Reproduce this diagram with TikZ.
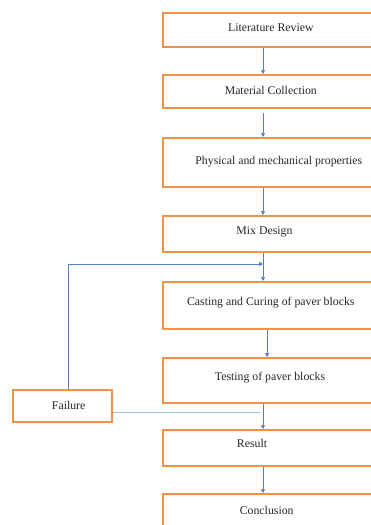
\documentclass[tikz,border=0pt]{standalone}
\usepackage{fontspec}
\setmainfont{Liberation Serif}
\usetikzlibrary{arrows.meta,calc}
\definecolor{boxorange}{RGB}{243,145,70}
\definecolor{arrblue}{RGB}{80,125,195}
\definecolor{lightblue}{RGB}{165,190,225}
\begin{document}
\begin{tikzpicture}[x=1pt,y=-1pt,
  box/.style={draw=boxorange,line width=2pt,rectangle,inner sep=0pt,minimum width=#1},
  box/.default=215pt,
  lbl/.style={font=\fontsize{11.8}{13}\selectfont,text=black!85,inner sep=0pt},
  arr/.style={draw=arrblue,line width=0.7pt,-{Triangle[length=4pt,width=4pt]}},
  lin/.style={draw=lightblue,line width=1pt}]
\useasboundingbox (0,0) rectangle (371,525);
\clip (0,0) rectangle (371,525);
% boxes
\node[box,minimum height=34pt] (lit) at (270.5,30) {};
\node[box,minimum height=33pt] (mat) at (270.5,91.5) {};
\node[box,minimum height=49pt] (phys) at (270.5,162.5) {};
\node[box,minimum height=36pt] (mix) at (270.5,234) {};
\node[box,minimum height=47pt] (cast) at (270.5,305.5) {};
\node[box,minimum height=45pt] (test) at (270.5,380.5) {};
\node[box,minimum height=36pt] (res) at (270.5,448) {};
\node[box,minimum height=44pt] (conc) at (270.5,516) {};
\node[box=99pt,minimum height=32pt] (fail) at (62.5,406) {};
% labels
\node[lbl] (tlit) at (270.8,28) {Literature Review};
\node[lbl] (tmat) at (270.8,90) {Material Collection};
\node[lbl] (tphys) at (278.8,162) {Physical and mechanical properties};
\node[lbl] (tmix) at (264.5,232) {Mix Design};
\node[lbl] (tcast) at (270.8,303) {Casting and Curing of paver blocks};
\node[lbl] (ttest) at (270,378) {Testing of paver blocks};
\node[lbl] (tfail) at (68.7,405) {Failure};
\node[lbl] (tres) at (252,443) {Result};
\node[lbl] (tconc) at (266.7,510) {Conclusion};
% connector coordinates
\coordinate (ax) at (263,0);
\coordinate (bx) at (267,0);
\coordinate (fx) at (68,0);
\coordinate (loop) at (68,264);
\coordinate (loopend) at (263,264);
\coordinate (fend) at (260,412);
% arrows
\draw[arr] (lit.south -| ax) -- (mat.north -| ax);
\draw[arr] ($(mat.south -| ax)+(0,4)$) -- (phys.north -| ax);
\draw[arr] (phys.south -| ax) -- (mix.north -| ax);
\draw[arr] (mix.south -| ax) -- (cast.north -| ax);
\draw[arr] (cast.south -| bx) -- (test.north -| bx);
\draw[arr] (test.south -| ax) -- (res.north -| ax);
\draw[arr] (res.south -| ax) -- (conc.north -| ax);
\draw[arr] (fail.north -| fx) -- (loop) -- (loopend);
\draw[lin] (fail.east |- fend) -- (fend);
\end{tikzpicture}
\end{document}
